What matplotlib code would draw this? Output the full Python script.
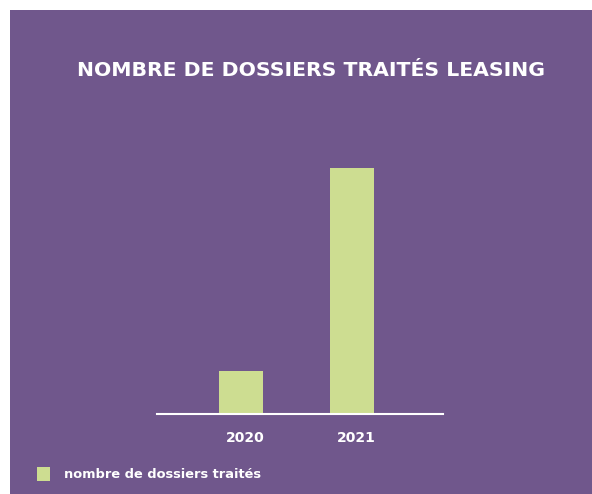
import matplotlib
matplotlib.use("Agg")
import matplotlib.pyplot as plt
from matplotlib.patches import Rectangle

years = ["2020", "2021"]
dossiers = [35, 200]

purple = "#70578c"
green = "#cddd91"

plt.rcParams["font.family"] = ["DejaVu Sans"]

fig = plt.figure(figsize=(5.92, 4.94), dpi=100, facecolor="white")
# purple panel, leaving a thin white margin top and left
fig.patches.append(Rectangle((10 / 592, 0), 1, 1 - 10 / 494,
                             transform=fig.transFigure, facecolor=purple,
                             edgecolor="none", zorder=-5))

ax = fig.add_axes([157 / 592, 1 - 414 / 494, 286 / 592, 284 / 494])
ax.set_zorder(2)
ax.set_facecolor("none")
x = range(len(years))
ax.bar(x, dossiers, width=0.4, color=green, zorder=2)
ax.set_xlim(-0.757, 1.82)
ax.set_ylim(0, 231)

for s in ["top", "right", "left"]:
    ax.spines[s].set_visible(False)
ax.spines["bottom"].set_color("white")
ax.spines["bottom"].set_linewidth(1.5)
ax.set_yticks([])
ax.set_xticks([i + 0.04 for i in x])
ax.set_xticklabels(years, color="white", fontsize=10, fontweight="bold")
ax.tick_params(axis="x", length=0, pad=12)

fig.text(311 / 592, 1 - 71 / 494, "NOMBRE DE DOSSIERS TRAITÉS LEASING",
         color="white", fontsize=14.7, fontweight="bold",
         ha="center", va="center")

# legend
fig.patches.append(Rectangle((37 / 592, 1 - 481 / 494), 13 / 592, 14 / 494,
                             transform=fig.transFigure, facecolor=green,
                             edgecolor="none", zorder=1))
fig.text(64 / 592, 1 - 474 / 494, "nombre de dossiers traités",
         color="white", fontsize=9.4, fontweight="bold", va="center")

fig.savefig("out.png", dpi=100, facecolor=fig.get_facecolor())
